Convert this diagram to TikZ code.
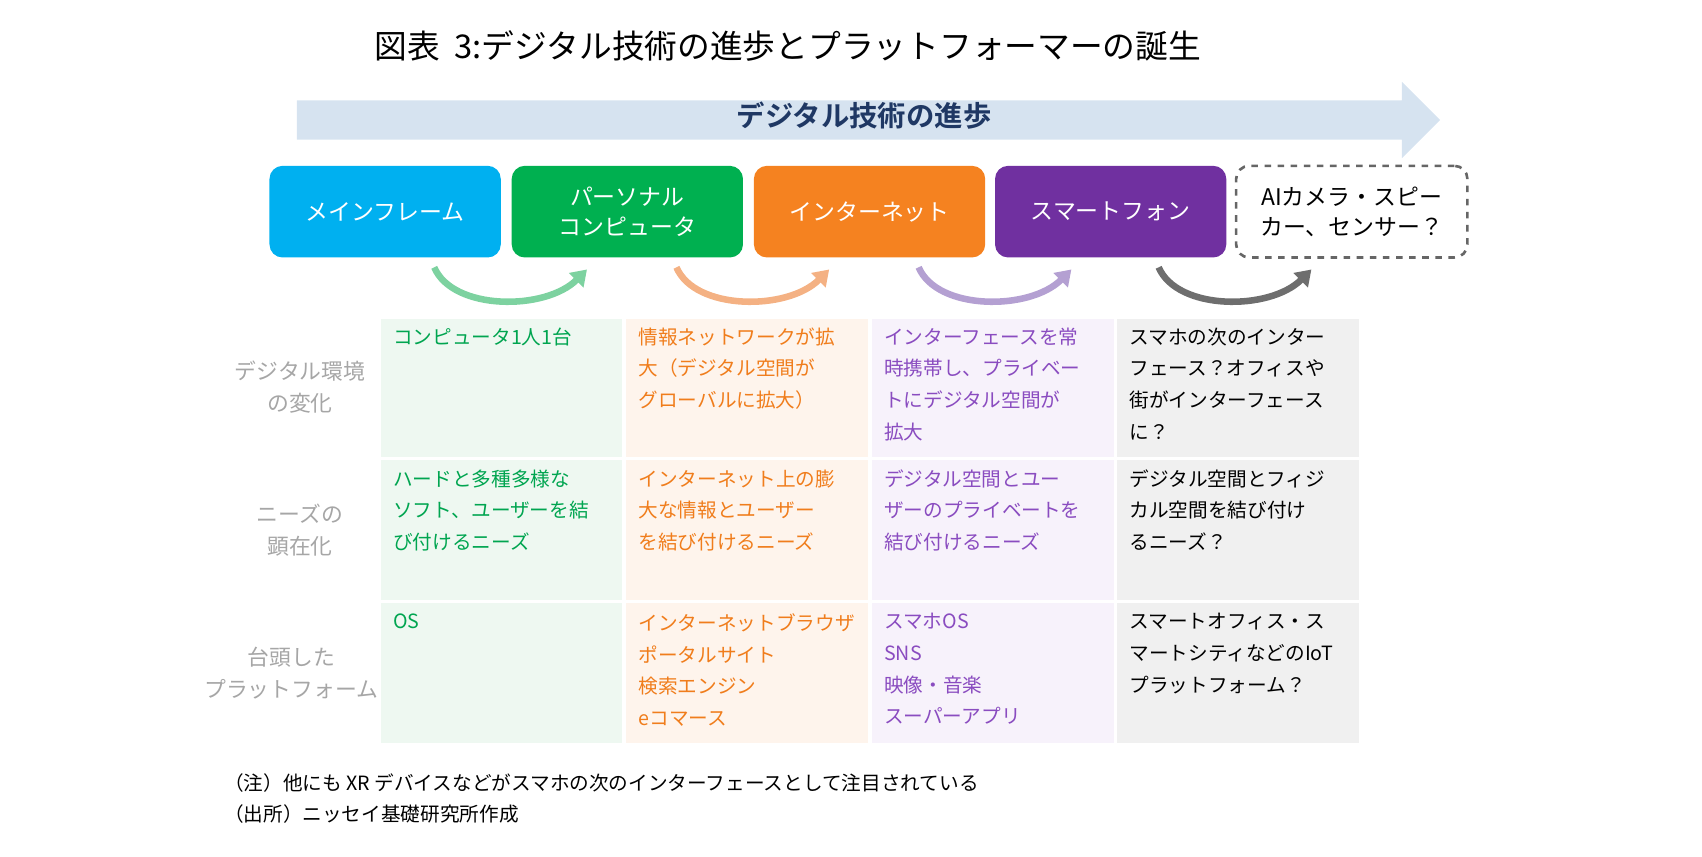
\documentclass[tikz,border=0pt]{standalone}
\usepackage{fontspec}
\setmainfont{Noto Sans CJK JP}
\newfontfamily\jpb{Noto Sans CJK JP}[BoldFont={* Bold}]
\usetikzlibrary{arrows.meta}
\definecolor{cblue}{HTML}{00B0F0}
\definecolor{cgreen}{HTML}{00B050}
\definecolor{corange}{HTML}{F58220}
\definecolor{cpurple}{HTML}{7030A0}
\definecolor{tgreen}{HTML}{00A550}
\definecolor{torange}{HTML}{F07D1C}
\definecolor{tpurple}{HTML}{8A4CC0}
\definecolor{bgreen}{HTML}{EEF8F1}
\definecolor{borange}{HTML}{FEF4EC}
\definecolor{bpurple}{HTML}{F7F2FB}
\definecolor{bgray}{HTML}{F0F0F0}
\definecolor{arrowbg}{HTML}{D6E3F0}
\definecolor{navy}{HTML}{1F3864}
\definecolor{lgray}{HTML}{A6A6A6}
\tikzset{
 techbox/.style={rounded corners=6pt,minimum width=106pt,minimum height=42pt,text=white,font=\fontsize{10.5}{14}\selectfont,align=center,inner sep=0pt},
 cell/.style={anchor=north west,align=left,font=\fontsize{9}{14.5}\selectfont,inner sep=0pt},
 rowlab/.style={align=center,text=lgray,font=\fontsize{10}{14.5}\selectfont},
 curv/.style={line width=3pt,-{Triangle[length=7pt,width=9pt]}},
 note/.style={anchor=west,font=\fontsize{9}{12}\selectfont,inner sep=0pt}
}
\begin{document}
\begin{tikzpicture}[x=0.5pt,y=-0.5pt]
\useasboundingbox (0,0) rectangle (1560,785);
\node[font=\fontsize{15}{18}\selectfont] (title) at (722,42) {図表\ \ 3:デジタル技術の進歩とプラットフォーマーの誕生};
\fill[arrowbg] (272,92) -- (1285,92) -- (1285,75) -- (1320,110) -- (1285,145) -- (1285,128) -- (272,128) -- cycle;
\node[font=\jpb\bfseries\fontsize{13}{16}\selectfont,text=navy] (prog) at (792,106) {デジタル技術の進歩};
\node[techbox,fill=cblue] (b1) at (353,194) {メインフレーム};
\node[techbox,fill=cgreen] (b2) at (575,194) {パーソナル\\コンピュータ};
\node[techbox,fill=corange] (b3) at (797,194) {インターネット};
\node[techbox,fill=cpurple] (b4) at (1018,194) {スマートフォン};
\node[techbox,draw=gray!80!black,dashed,line width=1.2pt,fill=white,text=black] (b5) at (1239,194) {AIカメラ・スピー\\カー、センサー？};
\draw[curv,draw={rgb,255:red,125;green,210;blue,160}] (398,245) .. controls (415,285) and (500,285) .. (538,247);
\draw[curv,draw={rgb,255:red,244;green,177;blue,131}] (620,245) .. controls (637,285) and (722,285) .. (760,247);
\draw[curv,draw={rgb,255:red,180;green,160;blue,210}] (842,245) .. controls (859,285) and (944,285) .. (982,247);
\draw[curv,draw={rgb,255:red,110;green,110;blue,110}] (1062,245) .. controls (1079,285) and (1164,285) .. (1202,247);
\foreach \xa/\xb/\c in {349/570/bgreen,574/796/borange,799/1021/bpurple,1024/1246/bgray}{
 \foreach \ya/\yb in {292/419,422/550,553/681}{\fill[\c] (\xa,\ya) rectangle (\xb,\yb);}}
\node[rowlab] (r1) at (275,355) {デジタル環境\\の変化};
\node[rowlab] (r2) at (275,486) {ニーズの\\顕在化};
\node[rowlab] (r3) at (267,617) {台頭した\\プラットフォーム};
\node[cell,text=tgreen] (c11) at (360,300) {コンピュータ1人1台};
\node[cell,text=torange] (c12) at (585,300) {情報ネットワークが拡\\大（デジタル空間が\\グローバルに拡大）};
\node[cell,text=tpurple] (c13) at (810,300) {インターフェースを常\\時携帯し、プライベー\\トにデジタル空間が\\拡大};
\node[cell] (c14) at (1035,300) {スマホの次のインター\\フェース？オフィスや\\街がインターフェース\\に？};
\node[cell,text=tgreen] (c21) at (360,430) {ハードと多種多様な\\ソフト、ユーザーを結\\び付けるニーズ};
\node[cell,text=torange] (c22) at (585,430) {インターネット上の膨\\大な情報とユーザー\\を結び付けるニーズ};
\node[cell,text=tpurple] (c23) at (810,430) {デジタル空間とユー\\ザーのプライベートを\\結び付けるニーズ};
\node[cell] (c24) at (1035,430) {デジタル空間とフィジ\\カル空間を結び付け\\るニーズ？};
\node[cell,text=tgreen] (c31) at (360,562) {OS};
\node[cell,text=torange] (c32) at (585,562) {インターネットブラウザ\\ポータルサイト\\検索エンジン\\eコマース};
\node[cell,text=tpurple] (c33) at (810,562) {スマホOS\\SNS\\映像・音楽\\スーパーアプリ};
\node[cell] (c34) at (1035,562) {スマートオフィス・ス\\マートシティなどのIoT\\プラットフォーム？};
\node[note] (n1) at (205,718) {（注）他にも XR デバイスなどがスマホの次のインターフェースとして注目されている};
\node[note] (n2) at (205,746) {（出所）ニッセイ基礎研究所作成};
\end{tikzpicture}
\end{document}
